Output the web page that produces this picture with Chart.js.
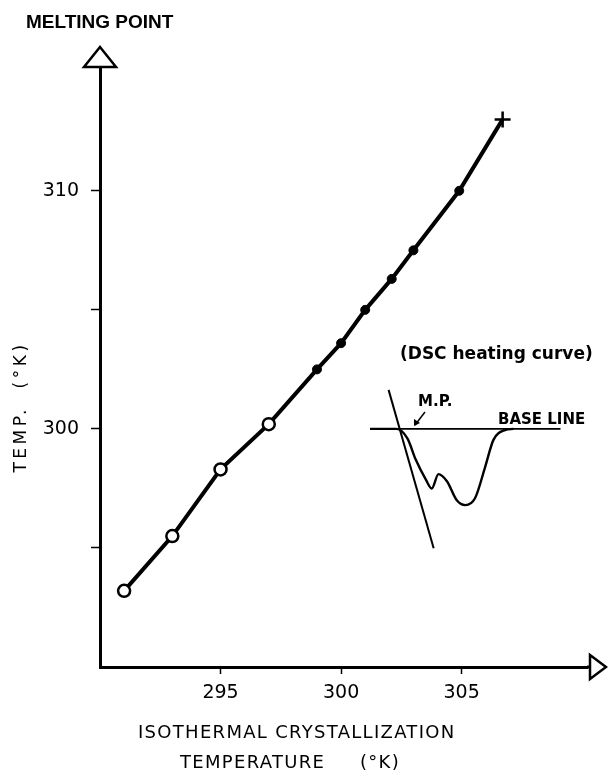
<!DOCTYPE html>
<html>
<head>
<meta charset="utf-8">
<script src="https://cdn.jsdelivr.net/npm/chart.js@4.4.1/dist/chart.umd.min.js"></script>
<style>
  body { margin: 0; background: #fff; }
  #wrap { width: 608px; height: 770px; position: relative; }
</style>
</head>
<body>
<div id="wrap"><canvas id="mpChart"></canvas></div>
<script>
// isothermal crystallization temp (K) vs melting point (K)
const openX = [291.0, 293.0, 295.0, 297.0];
const openY = [293.2, 295.5, 298.3, 300.2];
const filledX = [299.0, 300.0, 301.0, 302.1, 303.0, 304.9];
const filledY = [302.5, 303.6, 305.0, 306.3, 307.5, 310.0];
const crossX = [306.7];
const crossY = [313.0];

const xTicks = [295, 300, 305];
const yTicks = [295, 300, 305, 310];
const yLabelled = [300, 310];

// DSC heating curve sketch (inset), in plot units
const dscX = [301.2, 302.3, 302.75, 303.1, 303.5, 303.76, 304.04, 304.39, 304.8, 305.15, 305.56, 305.98, 306.32, 306.8, 307.15];
const dscY = [300.0, 300.0, 299.6, 298.7, 297.9, 297.5, 298.1, 297.8, 297.0, 296.8, 297.1, 298.42, 299.54, 299.95, 300.0];
const baseLineX = [301.2, 309.1];
const baseLineY = [300.0, 300.0];
const tangentX = [301.97, 303.84];
const tangentY = [301.64, 294.99];

const toPts = (xs, ys) => xs.map((x, i) => ({x: x, y: ys[i]}));

const allPts = toPts(openX, openY).concat(toPts(filledX, filledY), toPts(crossX, crossY))
    .sort((a, b) => a.x - b.x);

const decor = {
    id: 'decor',
    afterDraw(chart) {
        const ctx = chart.ctx;
        const a = chart.chartArea;
        ctx.save();
        ctx.strokeStyle = '#000';
        ctx.fillStyle = '#000';
        ctx.lineWidth = 3;
        // axis extension + arrows
        ctx.beginPath();
        ctx.moveTo(a.right, a.bottom);
        ctx.lineTo(590, a.bottom);
        ctx.stroke();
        ctx.lineWidth = 2.5;
        ctx.fillStyle = '#fff';
        ctx.beginPath();
        ctx.moveTo(a.left, 47);
        ctx.lineTo(a.left + 16, a.top);
        ctx.lineTo(a.left - 16, a.top);
        ctx.closePath();
        ctx.fill();
        ctx.stroke();
        ctx.beginPath();
        ctx.moveTo(606, a.bottom);
        ctx.lineTo(590, a.bottom - 12);
        ctx.lineTo(590, a.bottom + 12);
        ctx.closePath();
        ctx.fill();
        ctx.stroke();

        // texts
        ctx.fillStyle = '#000';
        ctx.textBaseline = 'middle';
        ctx.textAlign = 'left';
        ctx.font = 'bold 19px "Liberation Sans"';
        ctx.fillText('MELTING POINT', 26, 23);

        ctx.font = '18px "DejaVu Sans"';
        ctx.letterSpacing = '1.3px';
        ctx.fillText('ISOTHERMAL CRYSTALLIZATION', 138, 733);
        ctx.fillText('TEMPERATURE', 180, 763);
        ctx.fillText('(°K)', 360, 763);

        ctx.save();
        ctx.translate(22, 407);
        ctx.rotate(-Math.PI / 2);
        ctx.textAlign = 'center';
        ctx.font = '17px "DejaVu Sans"';
        ctx.letterSpacing = '3.5px';
        ctx.fillText('TEMP.  (°K)', 0, 0);
        ctx.restore();

        ctx.letterSpacing = '0px';
        ctx.font = 'bold 17px "DejaVu Sans"';
        ctx.fillText('(DSC heating curve)', 400, 355);
        ctx.font = 'bold 15px "DejaVu Sans"';
        ctx.fillText('M.P.', 418, 402);
        ctx.fillText('BASE LINE', 498, 420);

        // M.P. pointer
        ctx.lineWidth = 1.5;
        ctx.beginPath();
        ctx.moveTo(425, 412);
        ctx.lineTo(415, 425);
        ctx.stroke();
        ctx.beginPath();
        ctx.moveTo(414, 426);
        ctx.lineTo(414, 419);
        ctx.lineTo(420, 423);
        ctx.closePath();
        ctx.fill();
        ctx.restore();
    }
};

const ctx = document.getElementById('mpChart').getContext('2d');
const mpChart = new Chart(ctx, {
    type: 'scatter',
    data: {
        datasets: [{
            label: 'open',
            data: toPts(openX, openY),
            pointStyle: 'circle',
            pointRadius: 6,
            pointBorderWidth: 2.5,
            pointBackgroundColor: '#fff',
            pointBorderColor: '#000',
            order: 1
        }, {
            label: 'filled',
            data: toPts(filledX, filledY),
            pointStyle: 'circle',
            pointRadius: 4.5,
            pointBackgroundColor: '#000',
            pointBorderColor: '#000',
            order: 1
        }, {
            label: 'cross',
            data: toPts(crossX, crossY),
            pointStyle: 'cross',
            pointRadius: 8,
            pointBorderWidth: 2.5,
            pointBorderColor: '#000',
            order: 1
        }, {
            label: 'line',
            data: allPts,
            showLine: true,
            borderColor: '#000',
            borderWidth: 4,
            pointRadius: 0,
            tension: 0,
            order: 2
        }, {
            label: 'dsc',
            data: toPts(dscX, dscY),
            showLine: true,
            borderColor: '#000',
            borderWidth: 2.4,
            pointRadius: 0,
            cubicInterpolationMode: 'monotone',
            order: 3
        }, {
            label: 'base',
            data: toPts(baseLineX, baseLineY),
            showLine: true,
            borderColor: '#000',
            borderWidth: 1.8,
            pointRadius: 0,
            order: 3
        }, {
            label: 'tangent',
            data: toPts(tangentX, tangentY),
            showLine: true,
            borderColor: '#000',
            borderWidth: 2,
            pointRadius: 0,
            order: 3
        }]
    },
    options: {
        responsive: true,
        maintainAspectRatio: false,
        animation: false,
        layout: {
            padding: { top: 67, right: 21, left: 0, bottom: 0 }
        },
        plugins: {
            legend: { display: false },
            tooltip: { enabled: false }
        },
        scales: {
            x: {
                type: 'linear',
                min: 290,
                max: 310.2,
                afterBuildTicks: s => { s.ticks = xTicks.map(v => ({value: v})); },
                afterFit: s => { s.height = 103; },
                border: { color: '#000', width: 3 },
                grid: {
                    drawOnChartArea: false,
                    drawTicks: true,
                    tickLength: 7,
                    tickColor: '#000',
                    tickWidth: 1.5
                },
                ticks: {
                    color: '#000',
                    padding: 8,
                    font: { family: "'DejaVu Sans', sans-serif", size: 19 }
                }
            },
            y: {
                type: 'linear',
                min: 290,
                max: 315.2,
                afterBuildTicks: s => { s.ticks = yTicks.map(v => ({value: v})); },
                afterFit: s => { s.width = 100; },
                border: { color: '#000', width: 3 },
                grid: {
                    drawOnChartArea: false,
                    drawTicks: true,
                    tickLength: 9,
                    tickColor: '#000',
                    tickWidth: 1.5
                },
                ticks: {
                    color: '#000',
                    padding: 12,
                    font: { family: "'DejaVu Sans', sans-serif", size: 19 },
                    callback: v => yLabelled.includes(v) ? String(v) : ''
                }
            }
        }
    },
    plugins: [decor]
});
</script>
</body>
</html>
